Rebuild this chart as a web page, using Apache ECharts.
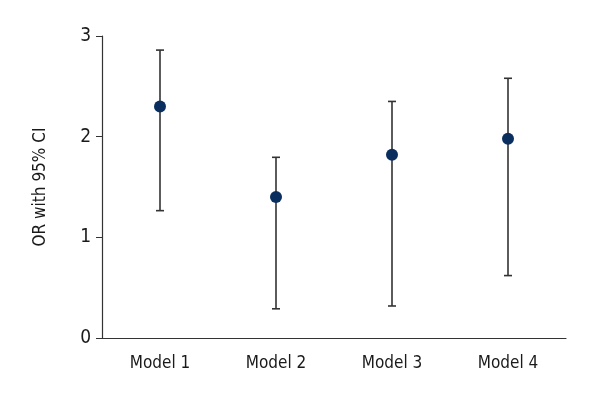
<!DOCTYPE html>
<html><head><meta charset="utf-8">
<script src="https://cdn.jsdelivr.net/npm/echarts@6/dist/echarts.min.js"></script>
<style>html,body{margin:0;padding:0;background:#fff}#c{width:600px;height:400px}</style>
</head><body><div id="c"></div>
<script>
const categories = ['Model 1', 'Model 2', 'Model 3', 'Model 4'];
const orValues = [2.30, 1.40, 1.82, 1.98];
const lowerCI = [1.265, 0.29, 0.318, 0.62];
const upperCI = [2.86, 1.795, 2.35, 2.58];
const yTicks = [0, 1, 2, 3];

const FONT = '"Liberation Sans Narrow", "DejaVu Sans Condensed", "Roboto Condensed", sans-serif';
const chart = echarts.init(document.getElementById('c'), null, {renderer: 'canvas'});
const errData = categories.map((c, i) => [i, lowerCI[i], upperCI[i]]);
chart.setOption({
  animation: false,
  backgroundColor: '#fff',
  grid: {left: 102, right: 34, top: 36, bottom: 62},
  xAxis: {
    type: 'category', data: categories,
    axisLine: {lineStyle: {color: '#333', width: 1.2}},
    axisTick: {alignWithLabel: true, length: 5, lineStyle: {color: '#333'}},
    axisLabel: {fontFamily: FONT, fontSize: 17, color: '#1a1a1a', margin: 17}
  },
  yAxis: {
    type: 'value', min: yTicks[0], max: yTicks[yTicks.length - 1], interval: 1,
    name: 'OR with 95% CI', nameLocation: 'middle', nameGap: 53,
    nameTextStyle: {fontFamily: FONT, fontSize: 17, color: '#1a1a1a'},
    axisLine: {show: true, lineStyle: {color: '#333', width: 1.2}},
    axisTick: {show: true, length: 6, lineStyle: {color: '#333'}},
    axisLabel: {fontFamily: FONT, fontSize: 19, color: '#1a1a1a', margin: 11},
    splitLine: {show: false}
  },
  series: [
    {
      type: 'custom',
      data: errData,
      renderItem: function (params, api) {
        const x = api.value(0);
        const lo = api.coord([x, api.value(1)]);
        const hi = api.coord([x, api.value(2)]);
        const hw = 4;
        const style = {stroke: '#333', lineWidth: 1.6};
        return {
          type: 'group',
          children: [
            {type: 'line', shape: {x1: lo[0], y1: lo[1], x2: hi[0], y2: hi[1]}, style: style},
            {type: 'line', shape: {x1: lo[0] - hw, y1: lo[1], x2: lo[0] + hw, y2: lo[1]}, style: style},
            {type: 'line', shape: {x1: hi[0] - hw, y1: hi[1], x2: hi[0] + hw, y2: hi[1]}, style: style}
          ]
        };
      },
      z: 2
    },
    {
      type: 'scatter',
      data: orValues,
      symbol: 'circle', symbolSize: 12,
      itemStyle: {color: '#0a2f5f', opacity: 1},
      z: 3
    }
  ]
});
</script></body></html>
